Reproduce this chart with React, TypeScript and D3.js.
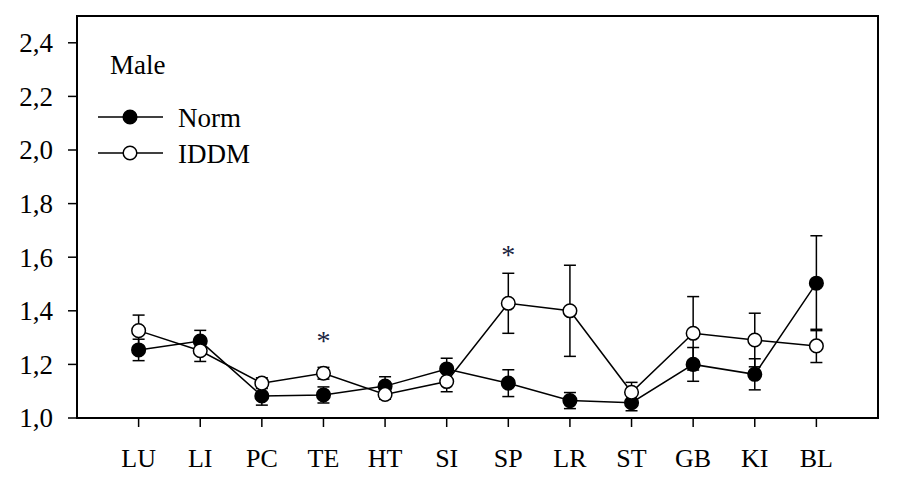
import React from "react";
import * as d3 from "d3";

const categories = ["LU", "LI", "PC", "TE", "HT", "SI", "SP", "LR", "ST", "GB", "KI", "BL"];
const normMean = [1.254, 1.287, 1.082, 1.086, 1.119, 1.183, 1.13, 1.065, 1.057, 1.2, 1.163, 1.503];
const normErr = [0.04, 0.04, 0.034, 0.03, 0.035, 0.04, 0.05, 0.03, 0.03, 0.063, 0.058, 0.177];
const iddmMean = [1.326, 1.251, 1.13, 1.167, 1.088, 1.136, 1.428, 1.4, 1.096, 1.316, 1.291, 1.269];
const iddmErr = [0.058, 0.04, 0.02, 0.022, 0.018, 0.038, 0.112, 0.17, 0.037, 0.137, 0.1, 0.062];
const significant = ["TE", "SP"];
const significantLevel = [1.3, 1.62];
const yTicks = [1.0, 1.2, 1.4, 1.6, 1.8, 2.0, 2.2, 2.4];

const W = 900, H = 480;
const left = 77, right = 878, top = 16, bottom = 418;
const FONT = "'Liberation Serif', 'Times New Roman', serif";

export default function App() {
  const x = d3.scaleLinear().domain([0, categories.length + 1]).range([left, right]);
  const y = d3.scaleLinear().domain([1.0, 2.5]).range([bottom, top]);
  const line = d3.line<number>().x((_, i) => x(i + 1)).y((d) => y(d));
  const fmt = (v: number) => v.toFixed(1).replace(".", ",");
  const r = 6.8;
  const cap = 6;

  const errBars = (means: number[], errs: number[], key: string) =>
    means.map((m, i) => {
      const cx = x(i + 1);
      const y1 = y(m + errs[i]);
      const y2 = y(m - errs[i]);
      return (
        <g key={key + i} stroke="#000" strokeWidth={1.5}>
          <line x1={cx} x2={cx} y1={y1} y2={y2} />
          <line x1={cx - cap} x2={cx + cap} y1={y1} y2={y1} />
          <line x1={cx - cap} x2={cx + cap} y1={y2} y2={y2} />
        </g>
      );
    });

  return (
    <svg width={W} height={H} style={{ position: "absolute", left: 0, top: 0, background: "#fff" }} fontFamily={FONT}>
      <rect x={0} y={0} width={W} height={H} fill="#fff" />
      {/* frame */}
      <rect x={left} y={top} width={right - left} height={bottom - top} fill="none" stroke="#000" strokeWidth={2} />
      {/* y ticks */}
      {yTicks.map((t) => (
        <g key={"y" + t}>
          <line x1={left - 9} x2={left} y1={y(t)} y2={y(t)} stroke="#000" strokeWidth={1.5} />
          <text x={53} y={y(t)} dy="0.35em" textAnchor="end" fontSize={27} fill="#000">
            {fmt(t)}
          </text>
        </g>
      ))}
      {/* x ticks */}
      {categories.map((c, i) => (
        <g key={"x" + c}>
          <line x1={x(i + 1)} x2={x(i + 1)} y1={bottom} y2={bottom + 9} stroke="#000" strokeWidth={1.5} />
          <text x={x(i + 1)} y={467} textAnchor="middle" fontSize={26} fill="#000">
            {c}
          </text>
        </g>
      ))}
      {/* error bars */}
      {errBars(normMean, normErr, "ne")}
      {errBars(iddmMean, iddmErr, "ie")}
      {/* lines */}
      <path d={line(normMean) || ""} fill="none" stroke="#000" strokeWidth={1.5} />
      <path d={line(iddmMean) || ""} fill="none" stroke="#000" strokeWidth={1.5} />
      {/* markers */}
      {normMean.map((m, i) => (
        <circle key={"nm" + i} cx={x(i + 1)} cy={y(m)} r={r} fill="#000" stroke="#000" strokeWidth={1.5} />
      ))}
      {iddmMean.map((m, i) => (
        <circle key={"im" + i} cx={x(i + 1)} cy={y(m)} r={r} fill="#fff" stroke="#000" strokeWidth={1.5} />
      ))}
      {/* significance */}
      {significant.map((c, k) => {
        const i = categories.indexOf(c);
        return (
          <text key={"s" + c} x={x(i + 1)} y={y(significantLevel[k]) + 12} textAnchor="middle" fontSize={28} fill="#1a2340">
            *
          </text>
        );
      })}
      {/* legend */}
      <text x={110} y={74} fontSize={27} fill="#000">Male</text>
      <g>
        <line x1={98} x2={163} y1={117} y2={117} stroke="#000" strokeWidth={1.5} />
        <circle cx={130} cy={117} r={r} fill="#000" stroke="#000" strokeWidth={1.5} />
        <text x={178} y={127} fontSize={27} fill="#000">Norm</text>
      </g>
      <g>
        <line x1={98} x2={163} y1={153} y2={153} stroke="#000" strokeWidth={1.5} />
        <circle cx={130} cy={153} r={r} fill="#fff" stroke="#000" strokeWidth={1.5} />
        <text x={178} y={163} fontSize={27} fill="#000">IDDM</text>
      </g>
    </svg>
  );
}
